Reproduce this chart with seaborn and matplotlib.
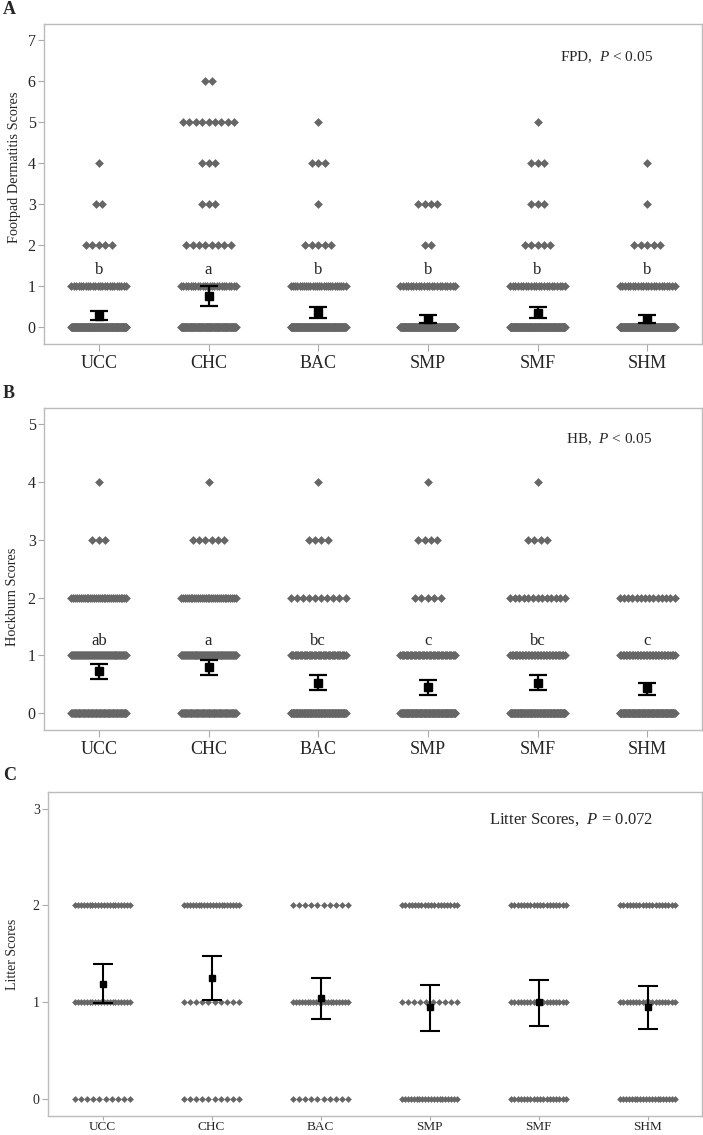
import numpy as np
import pandas as pd
import matplotlib
matplotlib.use('Agg')
import matplotlib.pyplot as plt
import seaborn as sns

sns.set_style('white')
plt.rcParams['font.family'] = ['Liberation Serif', 'DejaVu Serif']
plt.rcParams['mathtext.fontset'] = 'custom'
plt.rcParams['mathtext.rm'] = 'Liberation Serif'
plt.rcParams['mathtext.it'] = 'Liberation Serif:italic'

groups = ['UCC', 'CHC', 'BAC', 'SMP', 'SMF', 'SHM']

# number of birds per score (list index = score), one list per group
fpd_counts = [
    [120, 24, 5, 2, 1, 0, 0],
    [104, 24, 8, 3, 3, 9, 2],
    [115, 26, 5, 1, 3, 1, 0],
    [129, 22, 2, 4, 0, 0, 0],
    [122, 22, 5, 3, 3, 1, 0],
    [129, 22, 5, 1, 1, 0, 0],
]
fpd_mean = [0.28, 0.77, 0.37, 0.21, 0.35, 0.21]
fpd_lo = [0.17, 0.53, 0.23, 0.11, 0.22, 0.11]
fpd_hi = [0.39, 1.00, 0.49, 0.29, 0.49, 0.29]
fpd_letters = ['b', 'a', 'b', 'b', 'b', 'b']

hb_counts = [
    [69, 57, 30, 3, 1],
    [65, 58, 30, 6, 1],
    [91, 44, 10, 4, 1],
    [98, 42, 5, 4, 1],
    [94, 38, 13, 4, 1],
    [99, 37, 14, 0, 0],
]
hb_mean = [0.73, 0.80, 0.53, 0.45, 0.53, 0.43]
hb_lo = [0.59, 0.66, 0.40, 0.32, 0.41, 0.32]
hb_hi = [0.86, 0.93, 0.66, 0.58, 0.67, 0.53]
hb_letters = ['ab', 'a', 'bc', 'c', 'bc', 'c']

lit_counts = [
    [10, 20, 20],
    [10, 10, 20],
    [10, 20, 10],
    [20, 10, 18],
    [18, 18, 18],
    [20, 18, 18],
]
lit_mean = [1.19, 1.25, 1.04, 0.95, 1.00, 0.95]
lit_lo = [0.99, 1.02, 0.83, 0.70, 0.76, 0.72]
lit_hi = [1.40, 1.48, 1.25, 1.18, 1.23, 1.17]


def spread(n, step=0.058, maxhalf=0.25):
    if n == 1:
        return np.array([0.0])
    half = min((n - 1) * step / 2, maxhalf)
    return np.linspace(-half, half, n)


def points(counts):
    rows = []
    for gi, cs in enumerate(counts):
        for score, n in enumerate(cs):
            if n == 0:
                continue
            for off in spread(n):
                rows.append({'group': groups[gi], 'xpos': gi + off, 'score': score})
    return pd.DataFrame(rows)


def panel(ax, counts, mean, lo, hi, ymax, ylabel, note, letters=None, letter_y=None,
          note_y=None, label_pos=(-0.035, 0.5), dsize=20, msize=5.5, cap=6.5, lw=1.6,
          fs_x=13, fs_y=11.5, fs_lab=10.3, fs_note=11, xpad=3, xlen=5):
    d = points(counts)
    sns.scatterplot(data=d, x='xpos', y='score', marker='D', s=dsize, color='#666666',
                    linewidth=0, ax=ax, legend=False, zorder=2)
    mean = np.array(mean)
    ax.errorbar(range(len(groups)), mean, yerr=[mean - np.array(lo), np.array(hi) - mean],
                fmt='s', color='black', ms=msize, capsize=cap, elinewidth=lw, capthick=lw,
                zorder=3)
    if letters:
        for i, t in enumerate(letters):
            ax.text(i, letter_y, t, ha='center', va='center', fontsize=12)
    ax.text(5.05, note_y, note, ha='right', va='center', fontsize=fs_note)
    ax.set_xlim(-0.5, 5.5)
    ax.set_ylim(-0.058 * ymax, 1.057 * ymax)
    ax.set_xticks(range(len(groups)))
    ax.set_xticklabels(groups, fontsize=fs_x)
    ax.set_yticks(range(ymax + 1))
    ax.tick_params(axis='y', labelsize=fs_y, length=4, color='#aaaaaa', pad=2)
    ax.tick_params(axis='x', length=xlen, color='#aaaaaa', pad=xpad)
    ax.tick_params(bottom=True, left=True)
    ax.set_xlabel('')
    ax.set_ylabel(ylabel, fontsize=fs_lab)
    ax.yaxis.set_label_coords(*label_pos)
    for s in ax.spines.values():
        s.set_color('#bbbbbb')
        s.set_linewidth(1.0)


fig = plt.figure(figsize=(7.03, 11.35), dpi=100)
H = 1135.0
W = 703.0

axA = fig.add_axes([44 / W, 1 - 344 / H, 658 / W, 320 / H])
panel(axA, fpd_counts, fpd_mean, fpd_lo, fpd_hi, 7, 'Footpad Dermatitis Scores',
      r'FPD,  $\mathit{P}$ < 0.05', fpd_letters, 1.4, 6.6, label_pos=(-0.035, 0.553))

axB = fig.add_axes([44 / W, 1 - 730 / H, 658 / W, 322 / H])
panel(axB, hb_counts, hb_mean, hb_lo, hb_hi, 5, 'Hockburn Scores',
      r'HB,  $\mathit{P}$ < 0.05', hb_letters, 1.25, 4.74, label_pos=(-0.038, 0.413))

axC = fig.add_axes([48 / W, 1 - 1116 / H, 654 / W, 324 / H])
panel(axC, lit_counts, lit_mean, lit_lo, lit_hi, 3, 'Litter Scores',
      r'Litter Scores,  $\mathit{P}$ = 0.072', None, None, 2.89,
      label_pos=(-0.044, 0.5), dsize=12, msize=4.5, cap=7.5, lw=1.5, fs_x=9.5,
      fs_y=10, fs_lab=10, fs_note=12, xpad=0.5, xlen=3)

for lab, y in [('A', 10), ('B', 393), ('C', 776)]:
    fig.text(3 / W, 1 - y / H, lab, fontsize=13, fontweight='bold', va='center', ha='left')

fig.savefig('out.png', dpi=100)
